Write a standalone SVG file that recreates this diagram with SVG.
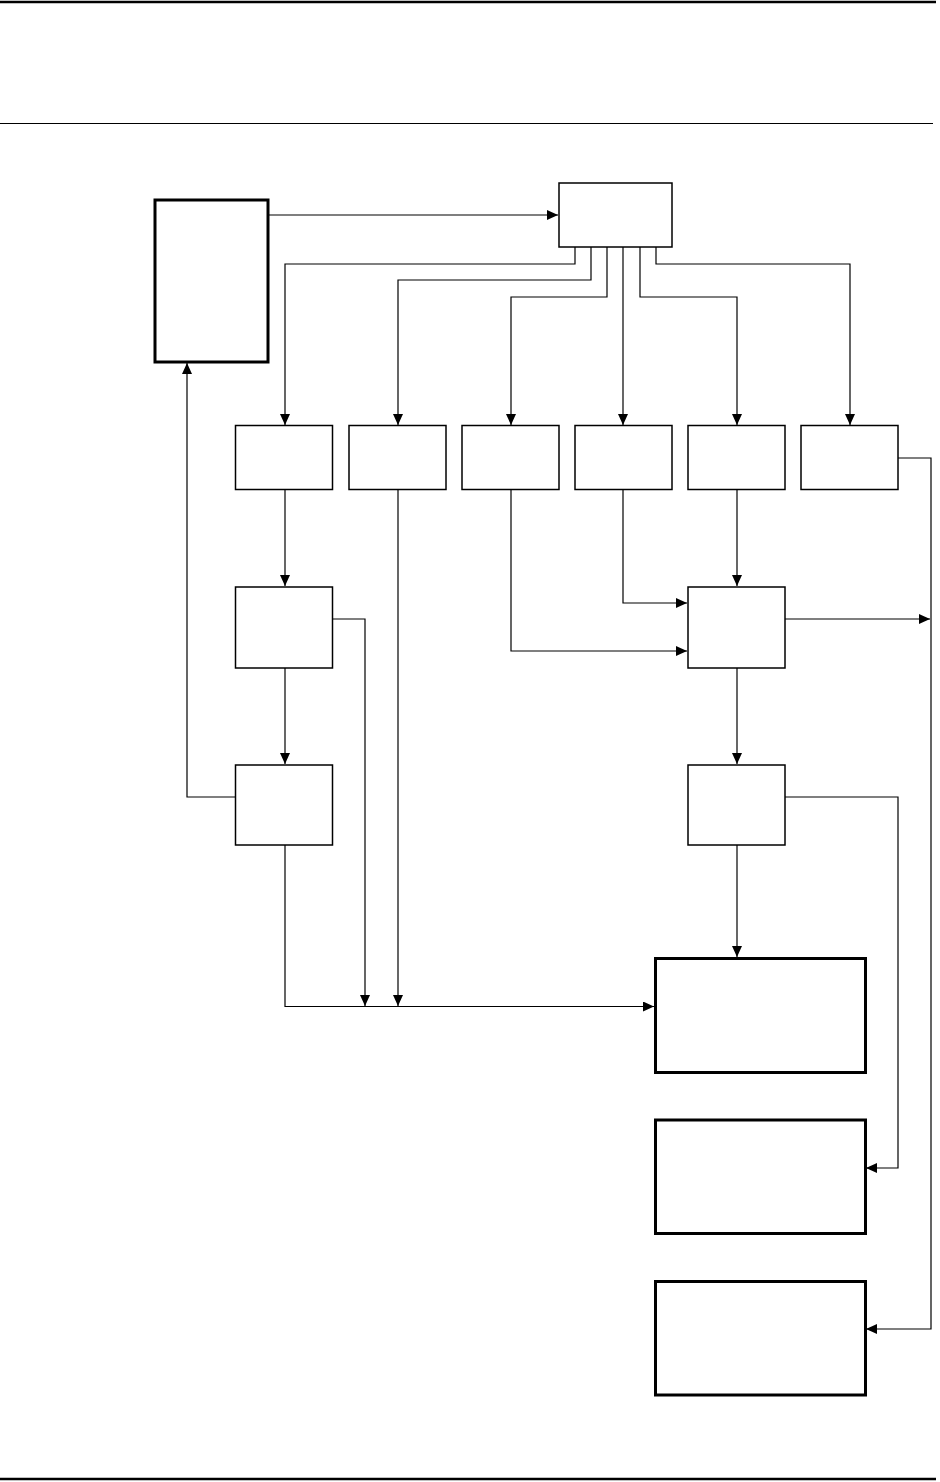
<svg xmlns="http://www.w3.org/2000/svg" width="940" height="1482" viewBox="0 0 940 1482">
<style>
.n{fill:#fff;stroke:#000;stroke-width:1.5}
.t{fill:#fff;stroke:#000;stroke-width:3}
.c{fill:none;stroke:#000;stroke-width:1.2}
.r{stroke:#000;fill:none}
</style>
<defs>
<marker id="a" viewBox="0 0 11 10" refX="11" refY="5" markerWidth="11" markerHeight="10" markerUnits="userSpaceOnUse" orient="auto">
<path d="M0,0L11,5L0,10z" fill="#000"/>
</marker>
</defs>
<g id="rules">
<line class="r" x1="0" y1="2" x2="936" y2="2" stroke-width="2.5"/>
<line class="r" x1="0" y1="123.5" x2="933" y2="123.5" stroke-width="1.2"/>
<line class="r" x1="0" y1="1479" x2="936" y2="1479" stroke-width="2.5"/>
</g>
<g id="nodes">
<g id="B"><rect class="t" x="155" y="200" width="113" height="162"/></g>
<g id="A"><rect class="n" x="559" y="183" width="113" height="64"/></g>
<g id="r1"><rect class="n" x="235.5" y="425.5" width="97" height="64"/></g>
<g id="r2"><rect class="n" x="349" y="425.5" width="97" height="64"/></g>
<g id="r3"><rect class="n" x="462" y="425.5" width="97" height="64"/></g>
<g id="r4"><rect class="n" x="575" y="425.5" width="97" height="64"/></g>
<g id="r5"><rect class="n" x="688" y="425.5" width="97" height="64"/></g>
<g id="r6"><rect class="n" x="801" y="425.5" width="97" height="64"/></g>
<g id="C"><rect class="n" x="235.5" y="587" width="97" height="81"/></g>
<g id="D"><rect class="n" x="688" y="587" width="97" height="81"/></g>
<g id="E"><rect class="n" x="235.5" y="765" width="97" height="80"/></g>
<g id="F"><rect class="n" x="688" y="765" width="97" height="80"/></g>
<g id="G"><rect class="t" x="655.5" y="958.5" width="210" height="114"/></g>
<g id="H"><rect class="t" x="655.5" y="1120" width="210" height="113.5"/></g>
<g id="I"><rect class="t" x="655.5" y="1281.5" width="210" height="113.5"/></g>
</g>
<g id="connectors">
<polyline class="c" points="268,215 558,215" marker-end="url(#a)"/>
<polyline class="c" points="575,247 575,264 285,264 285,425" marker-end="url(#a)"/>
<polyline class="c" points="591,247 591,280 398,280 398,425" marker-end="url(#a)"/>
<polyline class="c" points="607,247 607,297 511,297 511,425" marker-end="url(#a)"/>
<polyline class="c" points="623,247 623,425" marker-end="url(#a)"/>
<polyline class="c" points="640,247 640,297 737,297 737,425" marker-end="url(#a)"/>
<polyline class="c" points="656,247 656,264 850,264 850,425" marker-end="url(#a)"/>
<polyline class="c" points="285,490 285,586" marker-end="url(#a)"/>
<polyline class="c" points="285,668 285,764" marker-end="url(#a)"/>
<polyline class="c" points="333,619 365,619 365,1006" marker-end="url(#a)"/>
<polyline class="c" points="398,490 398,1006" marker-end="url(#a)"/>
<polyline class="c" points="285,845 285,1006.5 654,1006.5" marker-end="url(#a)"/>
<polyline class="c" points="235,797 187,797 187,363" marker-end="url(#a)"/>
<polyline class="c" points="511,490 511,651 687,651" marker-end="url(#a)"/>
<polyline class="c" points="623,490 623,603 687,603" marker-end="url(#a)"/>
<polyline class="c" points="737,490 737,586" marker-end="url(#a)"/>
<polyline class="c" points="785,619 930,619" marker-end="url(#a)"/>
<polyline class="c" points="737,668 737,764" marker-end="url(#a)"/>
<polyline class="c" points="737,845 737,957" marker-end="url(#a)"/>
<polyline class="c" points="785,797 898,797 898,1168 866,1168" marker-end="url(#a)"/>
<polyline class="c" points="898,458 931,458 931,1329 866,1329" marker-end="url(#a)" stroke-width="1.6"/>
</g>
</svg>
